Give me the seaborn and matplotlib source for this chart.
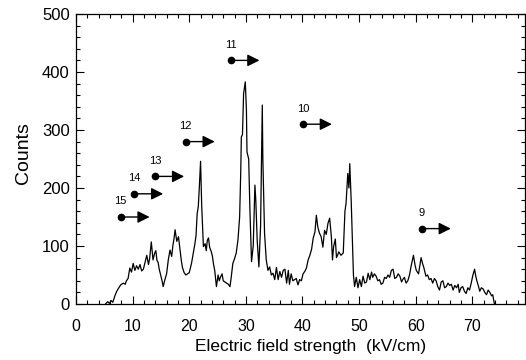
import matplotlib
matplotlib.use("Agg")
import matplotlib.pyplot as plt
import seaborn as sns
import pandas as pd
from matplotlib.ticker import MultipleLocator

field = [5.2, 5.6, 5.9, 6.2, 6.5, 6.9, 7.2, 7.5, 7.9, 8.35, 8.7, 8.9, 9.2, 9.5, 9.8, 10.1, 10.4, 10.7, 11.0, 11.3,
         11.6, 11.9, 12.2, 12.5, 12.8, 13.0, 13.3, 13.6, 13.9, 14.1, 14.3, 14.5, 14.7, 14.9, 15.2, 15.4, 15.7, 16.0,
         16.3, 16.6, 16.9, 17.1, 17.3, 17.5, 17.8, 18.1, 18.4, 18.6, 18.8, 19.1, 19.4, 19.7, 20.0, 20.4, 20.8, 21.0,
         21.2, 21.4, 21.6, 21.8, 22.0, 22.2, 22.4, 22.5, 22.8, 23.0, 23.2, 23.4, 23.6, 23.9, 24.1, 24.3, 24.5, 24.8,
         25.1, 25.3, 25.5, 25.8, 26.0, 26.3, 26.6, 26.9, 27.2, 27.4, 27.7, 28.0, 28.3, 28.6, 28.9, 29.1, 29.2, 29.4,
         29.6, 29.9, 30.1, 30.2, 30.5, 30.7, 31.0, 31.3, 31.6, 31.75, 32.0, 32.3, 32.6, 32.9, 33.0, 33.3, 33.6, 33.9,
         34.2, 34.5, 34.8, 35.1, 35.4, 35.7, 36.0, 36.3, 36.6, 36.9, 37.2, 37.5, 37.7, 38.0, 38.3, 38.6, 38.9, 39.2,
         39.5, 39.8, 40.1, 40.4, 40.7, 41.0, 41.3, 41.6, 41.9, 42.2, 42.45, 42.7, 43.0, 43.3, 43.6, 43.9, 44.2, 44.5,
         44.8, 45.1, 45.3, 45.5, 45.8, 46.0, 46.2, 46.4, 46.8, 47.2, 47.5, 47.7, 48.0, 48.2, 48.35, 48.6, 48.9, 49.0,
         49.2, 49.5, 49.8, 50.1, 50.4, 50.7, 51.0, 51.3, 51.6, 51.9, 52.2, 52.4, 52.7, 53.0, 53.3, 53.6, 53.9, 54.2,
         54.5, 54.8, 55.1, 55.4, 55.7, 56.0, 56.3, 56.6, 56.9, 57.2, 57.5, 57.7, 58.0, 58.3, 58.6, 58.9, 59.2, 59.6,
         59.9, 60.1, 60.5, 60.95, 61.2, 61.4, 61.8, 62.1, 62.4, 62.7, 63.0, 63.3, 63.6, 63.9, 64.2, 64.5, 64.8, 65.1,
         65.4, 65.7, 66.0, 66.3, 66.6, 66.9, 67.2, 67.5, 67.7, 68.0, 68.3, 68.6, 68.9, 69.2, 69.5, 69.8, 70.1, 70.4,
         70.6, 70.8, 71.1, 71.3, 71.6, 71.9, 72.2, 72.5, 72.8, 73.1, 73.4, 73.6, 73.9]
counts = [0, 4, 1, 6, 3, 15, 22, 27, 33, 36, 34, 40, 44, 62, 55, 70, 58, 66, 60, 68,
          57, 60, 72, 84, 68, 78, 107, 76, 88, 92, 75, 72, 60, 52, 40, 30, 42, 52,
          76, 93, 82, 100, 112, 128, 108, 116, 92, 75, 63, 54, 50, 52, 54, 70, 93, 104,
          118, 156, 168, 205, 246, 170, 120, 99, 104, 92, 110, 114, 98, 90, 82, 68, 58, 30,
          50, 40, 46, 52, 40, 38, 36, 34, 30, 45, 70, 78, 88, 110, 150, 230, 288, 292,
          363, 383, 334, 262, 250, 168, 73, 100, 205, 180, 110, 64, 135, 343, 250, 122, 76, 58,
          64, 50, 53, 42, 63, 42, 56, 46, 58, 60, 36, 58, 34, 52, 40, 42, 44, 33,
          42, 40, 52, 56, 62, 76, 84, 94, 114, 124, 153, 133, 122, 116, 98, 127, 120, 139,
          148, 116, 76, 99, 112, 80, 84, 90, 84, 88, 160, 174, 225, 200, 242, 179, 82, 50,
          30, 46, 28, 42, 30, 48, 36, 38, 53, 42, 55, 46, 52, 48, 40, 42, 34, 36,
          46, 44, 50, 46, 58, 60, 44, 46, 52, 48, 38, 42, 46, 36, 40, 50, 66, 84,
          66, 58, 52, 80, 70, 64, 48, 50, 42, 44, 36, 44, 40, 30, 24, 38, 40, 28,
          30, 36, 32, 34, 24, 32, 28, 34, 20, 28, 30, 22, 18, 28, 24, 36, 50, 60,
          48, 40, 30, 22, 28, 26, 20, 16, 24, 20, 14, 16, 0]

marker_labels = ["15", "14", "13", "12", "11", "10", "9"]
marker_x = [7.9, 10.3, 14.0, 19.4, 27.3, 40.1, 61.1]
marker_y = [150, 190, 220, 280, 420, 310, 130]

df = pd.DataFrame({"field": field, "counts": counts})

sns.set_theme(style="ticks")
plt.rcParams["font.family"] = ["Liberation Sans", "DejaVu Sans"]

fig = plt.figure(figsize=(5.26, 3.6), dpi=100)
ax = fig.add_axes([76 / 526, 1 - 304 / 360, (525 - 76) / 526, (304 - 14) / 360])

sns.lineplot(data=df, x="field", y="counts", ax=ax, color="black", linewidth=0.9,
             estimator=None, sort=False)

for lab, mx, my in zip(marker_labels, marker_x, marker_y):
    ax.plot(mx, my, "o", color="black", markersize=4.5, zorder=5)
    ax.annotate("", xy=(mx + 5.1, my), xytext=(mx, my),
                arrowprops=dict(arrowstyle="-|>,head_length=0.6,head_width=0.3",
                                color="black", lw=1.0, shrinkA=0, shrinkB=0))
    ax.text(mx, my + 27, lab, ha="center", va="center", fontsize=8, color="black")

ax.set_xlim(0, 79.3)
ax.set_ylim(0, 500)
ax.xaxis.set_major_locator(MultipleLocator(10))
ax.xaxis.set_minor_locator(MultipleLocator(2))
ax.yaxis.set_major_locator(MultipleLocator(100))
ax.yaxis.set_minor_locator(MultipleLocator(20))
ax.tick_params(which="both", direction="in", top=True, right=True,
               color="black", labelcolor="black", width=0.8)
ax.tick_params(which="major", length=6)
ax.tick_params(which="minor", length=3)
ax.tick_params(axis="x", which="major", labelsize=11.5, pad=11)
ax.tick_params(axis="y", which="major", labelsize=12, pad=4.5)
for s in ax.spines.values():
    s.set_color("black")
    s.set_linewidth(0.9)

ax.set_xlabel("Electric field strength  (kV/cm)", fontsize=12.5, color="black")
ax.set_ylabel("Counts", fontsize=14, color="black")
ax.xaxis.set_label_coords(0.523, -0.122)
ax.yaxis.set_label_coords(-0.099, 0.522)

fig.savefig("out.png", dpi=100)
